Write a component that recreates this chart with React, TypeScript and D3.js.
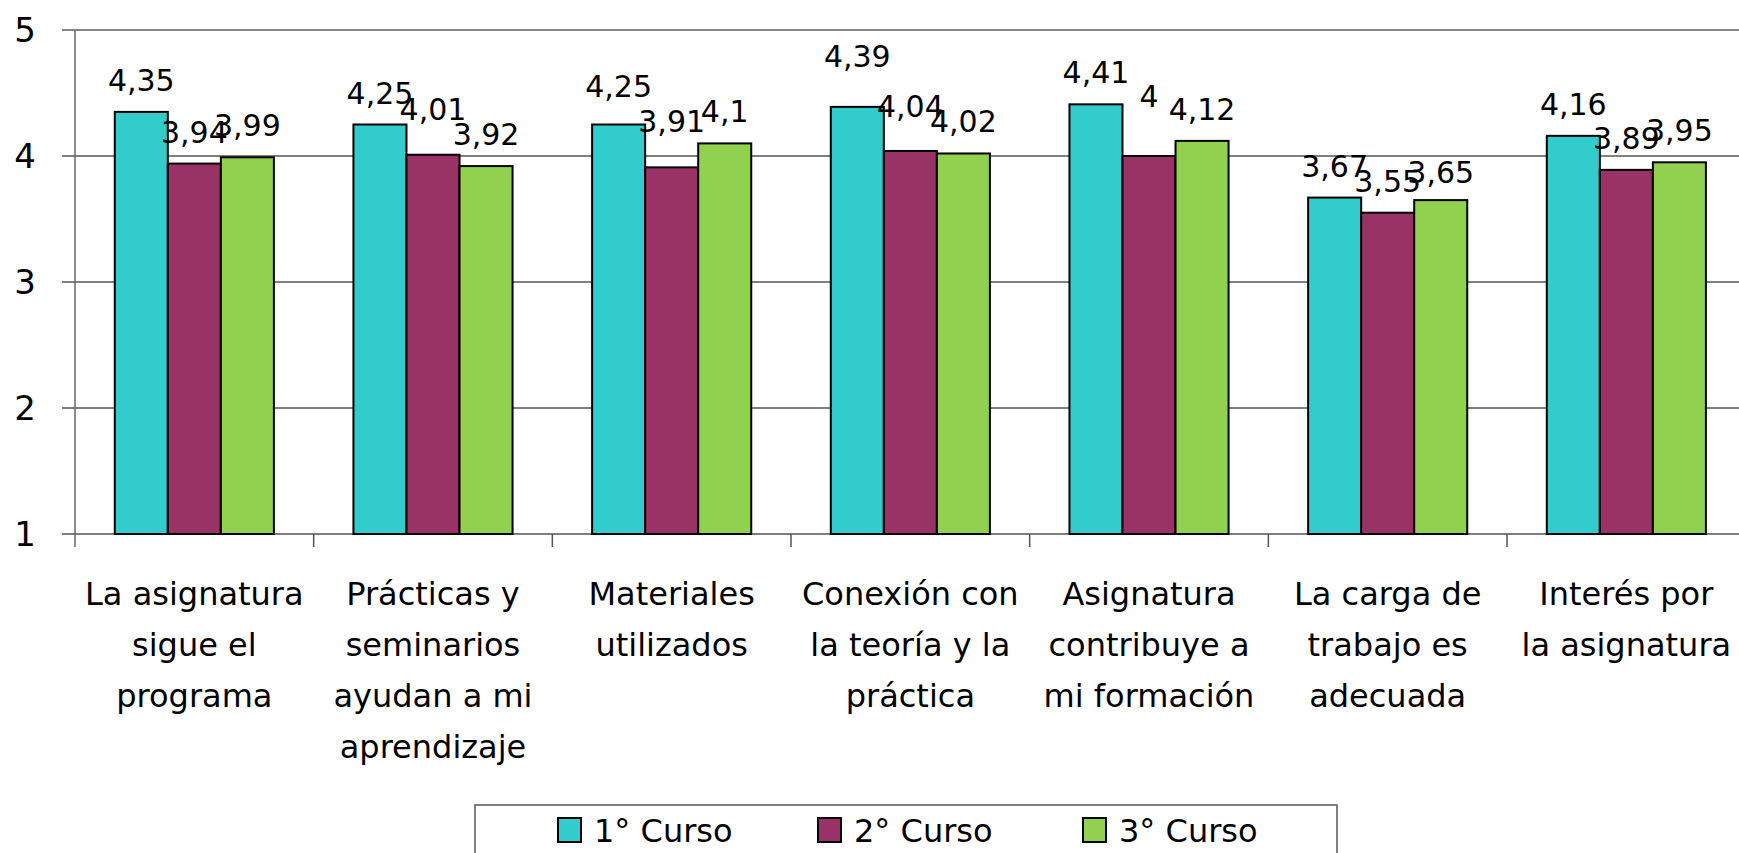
import React, { useEffect } from "react";
import { scaleBand, scaleLinear } from "d3";

// categories (x axis), one entry per wrapped line
const categories = [
  "La asignatura sigue el programa",
  "Prácticas y seminarios ayudan a mi aprendizaje",
  "Materiales utilizados",
  "Conexión con la teoría y la práctica",
  "Asignatura contribuye a mi formación",
  "La carga de trabajo es adecuada",
  "Interés por la asignatura",
];
const categoryLines = [
  ["La asignatura", "sigue el", "programa"],
  ["Prácticas y", "seminarios", "ayudan a mi", "aprendizaje"],
  ["Materiales", "utilizados"],
  ["Conexión con", "la teoría y la", "práctica"],
  ["Asignatura", "contribuye a", "mi formación"],
  ["La carga de", "trabajo es", "adecuada"],
  ["Interés por", "la asignatura"],
];

const series = ["1° Curso", "2° Curso", "3° Curso"];
const curso1 = [4.35, 4.25, 4.25, 4.39, 4.41, 3.67, 4.16];
const curso2 = [3.94, 4.01, 3.91, 4.04, 4, 3.55, 3.89];
const curso3 = [3.99, 3.92, 4.1, 4.02, 4.12, 3.65, 3.95];
const yTicks = [1, 2, 3, 4, 5];

const colors = ["#33CCCC", "#993366", "#92D050"];

// labels in the original were dragged by hand a little (px, per category/series)
const labelNudge = [
  [0, 0, 0],
  [0, -14, 0],
  [-7, -14, 0],
  [-19, -13, 0],
  [0, -28, 0],
  [0, 0, 4],
  [0, 0, 0],
];

const W = 1739;
const H = 853;
const left = 75;
const top = 30;
const bottom = 534;
const step = 238.67;
const font = "'Comic Sans MS', 'DejaVu Sans', sans-serif";

const fmt = (v: number) => String(v).replace(".", ",");

const App = () => {
  useEffect(() => {
    document.body.style.margin = "0";
  }, []);

  const values = [curso1, curso2, curso3];

  const x0 = scaleBand<string>()
    .domain(categories)
    .range([left, left + step * categories.length])
    .padding(0);
  const x1 = scaleBand<string>()
    .domain(series)
    .range([0, x0.bandwidth()])
    .paddingInner(0)
    .paddingOuter(0.75);
  const y = scaleLinear().domain([1, 5]).range([bottom, top]);

  const legendX = [558, 818, 1083];

  return (
    <svg width={W} height={H} style={{ display: "block", background: "#fff" }} fontFamily={font}>
      {/* gridlines */}
      {yTicks.slice(1, -1).map((t) => (
        <line key={"g" + t} x1={left - 13} x2={W} y1={y(t)} y2={y(t)} stroke="#000" strokeWidth={1} />
      ))}
      <line x1={left - 13} x2={W} y1={y(5)} y2={y(5)} stroke="#888" strokeWidth={2} />
      <line x1={left - 13} x2={W} y1={y(1)} y2={y(1)} stroke="#555" strokeWidth={1.5} />
      <line x1={left} x2={left} y1={y(5)} y2={bottom + 13} stroke="#666" strokeWidth={1.5} />

      {/* y labels */}
      {yTicks.map((t) => (
        <text key={"y" + t} x={36} y={y(t)} dy="0.36em" textAnchor="end" fontSize={34}>
          {t}
        </text>
      ))}

      {/* category ticks */}
      {categories.map((c) => (
        <line key={"t" + c} x1={x0(c)! + step} x2={x0(c)! + step} y1={bottom} y2={bottom + 13} stroke="#555" strokeWidth={1.5} />
      ))}

      {/* bars */}
      {categories.map((c, i) => (
        <g key={c} transform={`translate(${x0(c)},0)`}>
          {series.map((s, j) => (
            <rect
              key={s}
              x={x1(s)}
              y={y(values[j][i])}
              width={x1.bandwidth()}
              height={bottom - y(values[j][i])}
              fill={colors[j]}
              stroke="#000"
              strokeWidth={2}
            />
          ))}
          {series.map((s, j) => (
            <text
              key={"l" + s}
              x={x1(s)! + x1.bandwidth() / 2}
              y={y(values[j][i]) - 21 + labelNudge[i][j]}
              textAnchor="middle"
              fontSize={30}
            >
              {fmt(values[j][i])}
            </text>
          ))}
          <text textAnchor="middle" fontSize={32}>
            {categoryLines[i].map((ln, k) => (
              <tspan key={k} x={x0.bandwidth() / 2} y={605 + k * 51}>
                {ln}
              </tspan>
            ))}
          </text>
        </g>
      ))}

      {/* legend */}
      <rect x={475} y={805} width={862} height={80} fill="#fff" stroke="#555" strokeWidth={1.5} />
      {series.map((s, j) => (
        <g key={"lg" + s}>
          <rect x={legendX[j]} y={818} width={23} height={24} fill={colors[j]} stroke="#000" strokeWidth={2} />
          <text x={legendX[j] + 36} y={842} fontSize={32}>
            {s}
          </text>
        </g>
      ))}
    </svg>
  );
};

export default App;
